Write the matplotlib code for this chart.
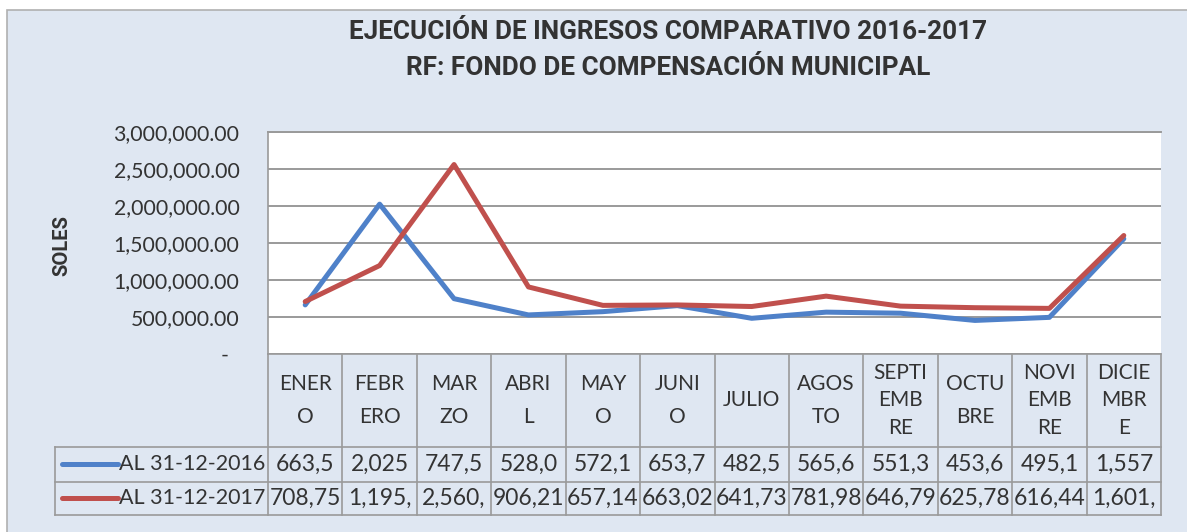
import matplotlib
matplotlib.use("Agg")
import matplotlib.pyplot as plt
from matplotlib.patches import Rectangle
from matplotlib.ticker import FuncFormatter, MultipleLocator

# ---------------- data ----------------
months = ["ENER\nO", "FEBR\nERO", "MAR\nZO", "ABRI\nL", "MAY\nO", "JUNI\nO", "JULIO",
          "AGOS\nTO", "SEPTI\nEMB\nRE", "OCTU\nBRE", "NOVI\nEMB\nRE", "DICIE\nMBR\nE"]
series_names = ["AL 31-12-2016", "AL 31-12-2017"]
values_2016 = [663520, 2025300, 747540, 528010, 572150, 653700,
               482510, 565600, 551300, 453600, 495100, 1557000]
values_2017 = [708750, 1195400, 2560300, 906210, 657140, 663020,
               641730, 781980, 646790, 625780, 616440, 1601200]
table_chars = [5, 6]          # characters visible in each table row
y_max = 3000000
y_step = 500000
title = "EJECUCIÓN DE INGRESOS COMPARATIVO 2016-2017\nRF: FONDO DE COMPENSACIÓN MUNICIPAL"
y_label = "SOLES"

# ---------------- style ----------------
W, H = 1187, 532
BG = "#dfe7f2"
GRID = "#9a9a9a"
TXT = "#333333"
COLORS = ["#4f81c9", "#c0504d"]
FONT = "Lato"
BOLD_FONT = "Roboto"
plt.rcParams["font.family"] = [FONT, "DejaVu Sans"]

fig = plt.figure(figsize=(W / 100, H / 100), dpi=100, facecolor="white")

def fx(px):
    return px / W

def fy(py):
    return 1 - py / H

# chart background + border
fig.patches.append(Rectangle((fx(7), fy(H + 5)), fx(W + 10 - 7), fy(10) - fy(H + 5),
                             transform=fig.transFigure, facecolor=BG,
                             edgecolor="#b0b0b0", linewidth=1.2, zorder=-10))

PL, PR, PT, PB = 268, 1161, 132, 354
ax = fig.add_axes([fx(PL), fy(PB), fx(PR) - fx(PL), fy(PT) - fy(PB)])
ax.set_zorder(2)
ax.set_facecolor("white")
n = len(months)
x = list(range(n))
for vals, col, name in zip([values_2016, values_2017], COLORS, series_names):
    ax.plot(x, vals, color=col, linewidth=3.6, solid_capstyle="round",
            solid_joinstyle="round", label=name, zorder=3)
ax.set_xlim(-0.5, n - 0.5)
ax.set_ylim(0, y_max)
ax.yaxis.set_major_locator(MultipleLocator(y_step))
ax.yaxis.set_major_formatter(FuncFormatter(lambda v, p: "-  " if v == 0 else f"{v:,.2f}"))
ax.tick_params(axis="y", length=0, pad=20.5, labelsize=15.3, labelcolor=TXT)
ax.set_xticks([])
ax.grid(axis="y", color=GRID, linewidth=1.4, zorder=1)
for s in ["right", "bottom"]:
    ax.spines[s].set_visible(False)
ax.spines["left"].set_color(GRID)
ax.spines["top"].set_color(GRID)
ax.spines["left"].set_linewidth(1.2)
ax.spines["top"].set_linewidth(1.4)

# ---------------- data table ----------------
TL, TT, TB = 55, PB, 515
R1, R2 = 447, 482
unit = (PR - PL) / n
x_left = -0.5 - (PL - TL) / unit
tax = fig.add_axes([fx(TL), fy(TB), fx(PR) - fx(TL), fy(TT) - fy(TB)])
tax.set_zorder(2)
tax.set_xlim(x_left, n - 0.5)
tax.set_ylim(TB, TT)
tax.axis("off")
lw = 1.2
for k in range(n + 1):
    tax.plot([k - 0.5, k - 0.5], [TT, TB], color=GRID, linewidth=lw, clip_on=False)
tax.plot([x_left, x_left], [R1, TB], color=GRID, linewidth=lw, clip_on=False)
tax.plot([-0.5, n - 0.5], [TT, TT], color=GRID, linewidth=lw, clip_on=False)
for yy in [R1, R2, TB]:
    tax.plot([x_left, n - 0.5], [yy, yy], color=GRID, linewidth=lw, clip_on=False)

for i, lab in enumerate(months):
    nl = lab.count("\n") + 1
    tax.text(i, (TT + R1) / 2, lab, ha="center", va="center", fontsize=15,
             color=TXT, linespacing=1.77 if nl == 2 else 1.45)

rows = [values_2016, values_2017]
row_y = [(R1 + R2) / 2, (R2 + TB) / 2]
for r, (vals, yy, nch) in enumerate(zip(rows, row_y, table_chars)):
    for i, v in enumerate(vals):
        tax.text(i, yy, f"{v:,.2f}"[:nch], ha="center", va="center",
                 fontsize=16.5, color=TXT)
    # legend key
    kx0 = x_left + 7 / unit
    kx1 = x_left + 63 / unit
    tax.plot([kx0, kx1], [yy, yy], color=COLORS[r], linewidth=3.6,
             solid_capstyle="round", clip_on=False)
    tax.text(kx1 + 1 / unit, yy, series_names[r], ha="left", va="center",
             fontsize=15.5, color=TXT)

# ---------------- titles ----------------
fig.text(fx(668), fy(50), title, ha="center", va="center", fontsize=18.8,
         fontweight="bold", family=[BOLD_FONT, "DejaVu Sans"], color=TXT,
         linespacing=1.6)
fig.text(fx(62), fy(245), y_label, ha="center", va="center", rotation=90,
         fontsize=14.5, fontweight="bold", family=[BOLD_FONT, "DejaVu Sans"],
         color=TXT)

fig.savefig("out.png", dpi=100, facecolor="white")
